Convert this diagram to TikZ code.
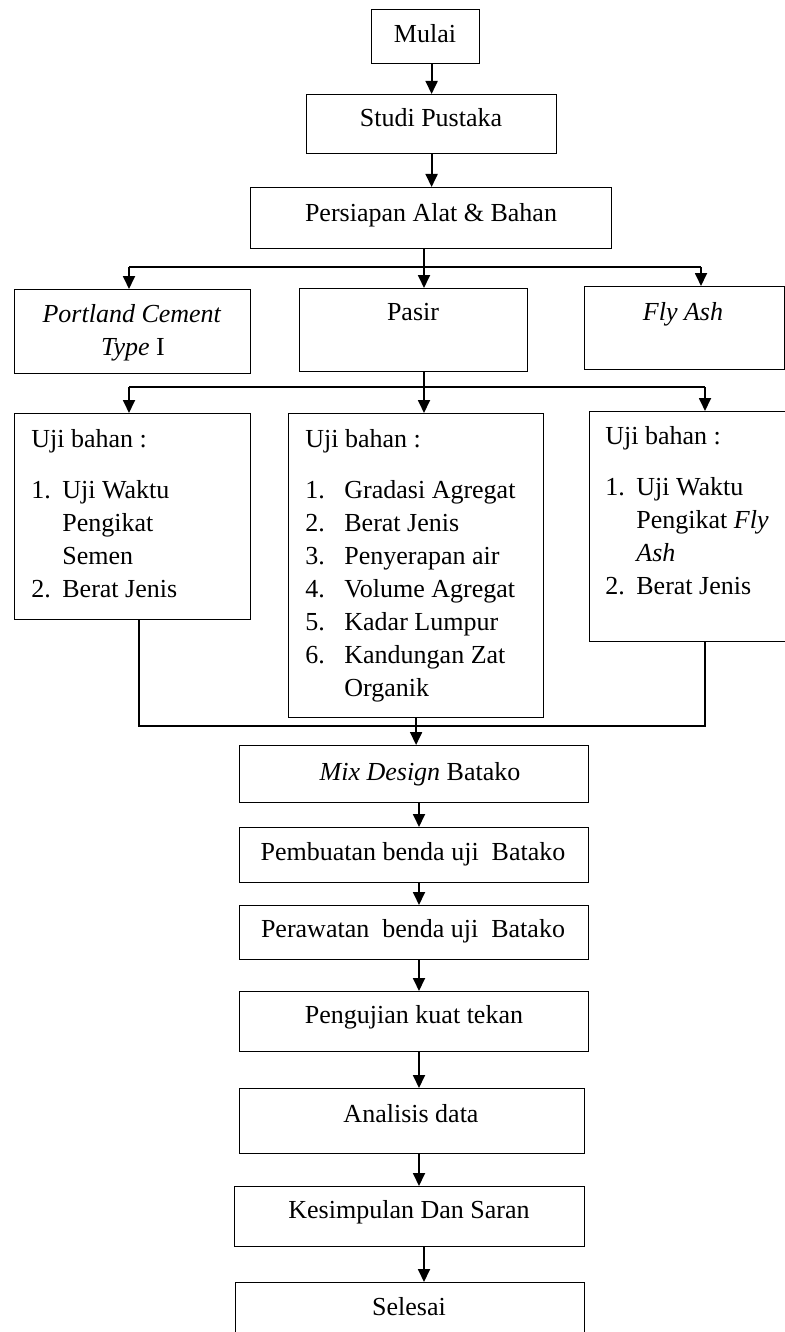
\documentclass[tikz,border=0pt]{standalone}
\usepackage{fontspec}
\setmainfont{Liberation Serif}
\usetikzlibrary{arrows.meta}

\newcommand{\nm}[2]{\makebox[#1][l]{#2}}

\tikzset{
  box/.style={draw, line width=0.6pt, rectangle, inner sep=0pt, anchor=north west},
  sz/.style 2 args={minimum width=#1*0.5pt, minimum height=#2*0.5pt},
  txt/.style={inner sep=0pt, anchor=base, font=\fontsize{13}{16.5}\selectfont},
  lst/.style={inner sep=0pt, anchor=north west, align=left, font=\fontsize{13}{16.5}\selectfont},
  ln/.style={line width=0.9pt},
  arr/.style={line width=0.9pt, -{Triangle[width=6pt,length=6.5pt]}},
}

\begin{document}
\begin{tikzpicture}[x=0.5pt, y=-0.5pt]

    \useasboundingbox (0,0) rectangle (785,1332);

    % Boxes
    \node[box, sz={108}{54}]  (mulai)     at (371,9)    {};
    \node[box, sz={250}{59}]  (studi)     at (306,94)   {};
    \node[box, sz={361}{61}]  (persiapan) at (250,187)  {};
    \node[box, sz={236}{84}]  (portland)  at (14,289)   {};
    \node[box, sz={228}{83}]  (pasir)     at (299,288)  {};
    \node[box, sz={200}{83}]  (flyash)    at (584,286)  {};
    \node[box, sz={236}{206}] (ujia)      at (14,413)   {};
    \node[box, sz={255}{304}] (ujib)      at (288,413)  {};
    \node[box, sz={240}{230}] (ujic)      at (589,411)  {};
    \node[box, sz={349}{57}]  (mix)       at (239,745)  {};
    \node[box, sz={349}{55}]  (buat)      at (239,827)  {};
    \node[box, sz={349}{54}]  (rawat)     at (239,905)  {};
    \node[box, sz={349}{60}]  (kuat)      at (239,991)  {};
    \node[box, sz={345}{65}]  (analisis)  at (239,1088) {};
    \node[box, sz={350}{60}]  (simpul)    at (234,1186) {};
    \node[box, sz={349}{80}]  (selesai)   at (235,1282) {};

    % Texts
    \node[txt] (tmulai)     at (425,43)   {Mulai};
    \node[txt] (tstudi)     at (431,127)  {Studi Pustaka};
    \node[txt] (tpersiapan) at (431,221)  {Persiapan Alat \& Bahan};
    \node[txt] (tportland)  at (132,322)  {\textit{Portland Cement}};
    \node[txt] (ttype)      at (133,355)  {\textit{Type} I};
    \node[txt] (tpasir)     at (413,320)  {Pasir};
    \node[txt] (tflyash)    at (683,320)  {\textit{Fly Ash}};
    \node[txt] (tmix)       at (420,780)  {\textit{Mix Design} Batako};
    \node[txt] (tbuat)      at (413,860)  {Pembuatan benda uji\ \ Batako};
    \node[txt] (trawat)     at (413,937)  {Perawatan\ \ benda uji\ \ Batako};
    \node[txt] (tkuat)      at (414,1023) {Pengujian kuat tekan};
    \node[txt] (tanalisis)  at (411,1122) {Analisis data};
    \node[txt] (tsimpul)    at (409,1218) {Kesimpulan Dan Saran};
    \node[txt] (tselesai)   at (409,1315) {Selesai};

    % Lists of tests
    \node[lst] (lsta) at (31,424) {\strut Uji bahan :\\[9pt]
        \nm{15.5pt}{1.}Uji Waktu\\ \hspace*{15.5pt}Pengikat\\
        \hspace*{15.5pt}Semen\\ \nm{15.5pt}{2.}Berat Jenis};
    \node[lst] (lstb) at (305,424) {\strut Uji bahan :\\[9pt]
        \nm{19.5pt}{1.}Gradasi Agregat\\ \nm{19.5pt}{2.}Berat Jenis\\
        \nm{19.5pt}{3.}Penyerapan air\\ \nm{19.5pt}{4.}Volume Agregat\\
        \nm{19.5pt}{5.}Kadar Lumpur\\ \nm{19.5pt}{6.}Kandungan Zat\\
        \hspace*{19.5pt}Organik};
    \node[lst] (lstc) at (605,421) {\strut Uji bahan :\\[9pt]
        \nm{15.5pt}{1.}Uji Waktu\\ \hspace*{15.5pt}Pengikat \textit{Fly}\\
        \hspace*{15.5pt}\textit{Ash}\\ \nm{15.5pt}{2.}Berat Jenis};

    % Top part
    \draw[arr] (mulai.south -| studi.north) -- (studi.north);
    \draw[arr] (studi.south) -- (studi.south |- persiapan.north);

    % First fork
    \coordinate (f1)  at (424,267);
    \coordinate (f1a) at (129,267);
    \coordinate (f1c) at (701,267);
    \draw[ln] (persiapan.south -| f1) -- (f1);
    \draw[ln] (f1a) -- (f1c);
    \draw[arr] (f1a) -- (f1a |- portland.north);
    \draw[arr] (f1) -- (f1 |- pasir.north);
    \draw[arr] (f1c) -- (f1c |- flyash.north);

    % Second fork
    \coordinate (f2)  at (424,387);
    \coordinate (f2a) at (129,387);
    \coordinate (f2c) at (705,387);
    \draw[ln] (pasir.south -| f2) -- (f2);
    \draw[ln] (f2a) -- (f2c);
    \draw[arr] (f2a) -- (f2a |- ujia.north);
    \draw[arr] (f2) -- (f2 |- ujib.north);
    \draw[arr] (f2c) -- (f2c |- ujic.north);

    % Merge
    \coordinate (m1) at (139,726);
    \coordinate (m2) at (705,726);
    \draw[ln] (ujia.south -| m1) -- (m1) -- (m2) -- (ujic.south -| m2);
    \draw[arr] (ujib.south) -- (ujib.south |- mix.north);

    % Lower chain
    \coordinate (sp) at (419,0);
    \draw[arr] (mix.south -| sp) -- (buat.north -| sp);
    \draw[arr] (buat.south -| sp) -- (rawat.north -| sp);
    \draw[arr] (rawat.south -| sp) -- (kuat.north -| sp);
    \draw[arr] (kuat.south -| sp) -- (analisis.north -| sp);
    \draw[arr] (analisis.south -| sp) -- (simpul.north -| sp);
    \draw[arr] (simpul.south -| f1) -- (selesai.north -| f1);

\end{tikzpicture}
\end{document}
